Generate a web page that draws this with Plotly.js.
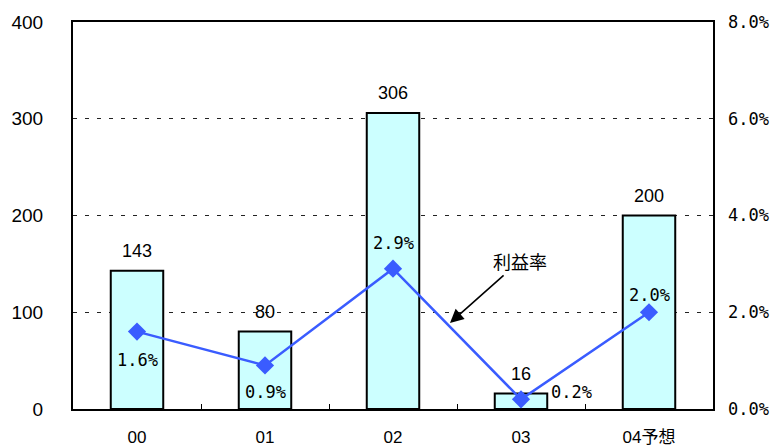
<!DOCTYPE html>
<html><head><meta charset="utf-8">
<script src="https://cdn.plot.ly/plotly-3.0.1.min.js"></script>
<style>body{margin:0;background:#fff}#c{width:773px;height:448px}</style>
</head><body><div id="c"></div>
<script>
const categories = ['00','01','02','03','04予想'];
const profit = [143, 80, 306, 16, 200];
const margin = [1.6, 0.9, 2.9, 0.2, 2.0];
const marginLabels = ['1.6%','0.9%','2.9%','0.2%','2.0%'];

// label placement (pixels relative to the marker)
const pctShift = [[0,-28],[0,-27],[0,26],[50,7],[0,17]];

const traces = [
  {type:'bar', x:categories, y:profit,
   marker:{color:'#ccffff', line:{color:'#000', width:2}}, width:0.41, hoverinfo:'none'},
  {type:'scatter', mode:'lines+markers', x:categories, y:margin, yaxis:'y2', cliponaxis:false,
   line:{color:'#3a5cff', width:2.5}, marker:{symbol:'diamond', size:14, color:'#3a5cff'}, hoverinfo:'none'}
];

const annotations = [];
categories.forEach((c,i)=>{
  annotations.push({x:c, y:profit[i], xref:'x', yref:'y', text:String(profit[i]), showarrow:false,
    yshift:20, yanchor:'middle', font:{family:'Arial, Liberation Sans', size:18, color:'#000'}});
  annotations.push({x:c, y:margin[i], xref:'x', yref:'y2', text:marginLabels[i], showarrow:false,
    xshift:pctShift[i][0], yshift:pctShift[i][1], yanchor:'middle', xanchor:'center',
    font:{family:'DejaVu Sans Mono', size:17, color:'#000'}});
});
annotations.push({x:2.445, y:1.78, xref:'x', yref:'y2', text:'利益率', showarrow:true,
    ax:70, ay:-62, arrowhead:2, arrowsize:1.7, arrowwidth:1.6, arrowcolor:'#000',
    font:{family:'Noto Sans CJK JP', size:18, color:'#000'}});

const layout = {
  width:773, height:448, margin:{l:73, r:60, t:22, b:39},
  paper_bgcolor:'#fff', plot_bgcolor:'#fff', showlegend:false, bargap:0,
  font:{family:'Arial, Liberation Sans', color:'#000'},
  xaxis:{type:'category', showline:true, linecolor:'#000', linewidth:2, mirror:true,
    ticks:'inside', tickson:'boundaries', ticklen:5, tickcolor:'#000', tickwidth:1,
    tickfont:{family:'Arial, Liberation Sans, Noto Sans CJK JP', size:17}, showgrid:false,
    ticklabelstandoff:12},
  yaxis:{range:[0,400], dtick:100, showline:true, linecolor:'#000', linewidth:2, mirror:true,
    ticks:'', showgrid:true, gridcolor:'#222', gridwidth:1, griddash:'4px,8px',
    tickfont:{size:19}, zeroline:false, ticklabelstandoff:24},
  yaxis2:{overlaying:'y', side:'right', range:[0,8], dtick:2, tickformat:'.1f', ticksuffix:'%',
    showgrid:false, showline:false, zeroline:false, ticks:'',
    tickfont:{family:'DejaVu Sans Mono', size:17}, ticklabelstandoff:14},
  annotations:annotations
};
Plotly.newPlot('c', traces, layout, {staticPlot:true});
</script></body></html>
